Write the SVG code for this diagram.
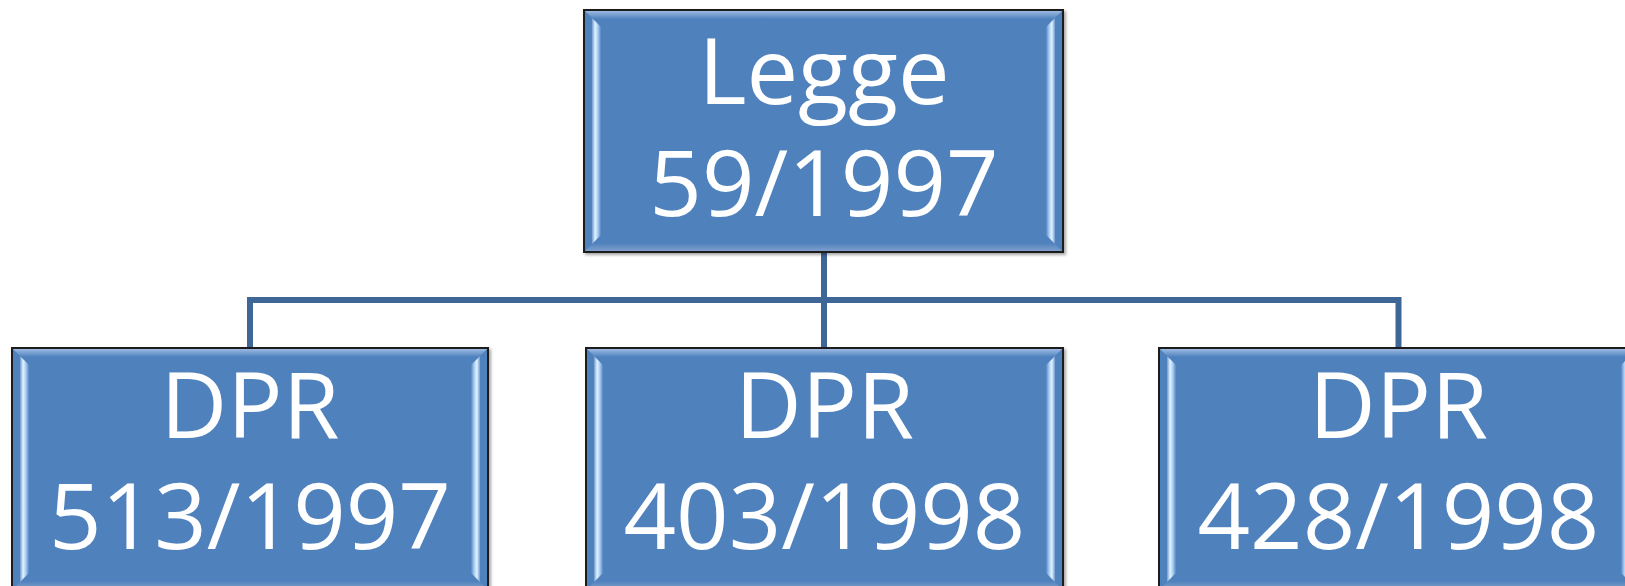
<svg xmlns="http://www.w3.org/2000/svg" width="1625" height="586" viewBox="0 0 1625 586">
<style>
.frame{fill:#4f81bd;stroke:#1c1c1c;stroke-width:2}
.lbl{font-family:"Open Sans","Noto Sans",sans-serif;font-size:92px;fill:#ffffff;text-anchor:middle}
.conn{fill:none;stroke:#3e6797;stroke-width:6}
.strip{fill:url(#gStrip)}
.stripR{fill:url(#gStripR)}
.topband{fill:url(#gTop)}
.botband{fill:url(#gBot)}
</style>
<defs>
<filter id="sh" x="-5%" y="-5%" width="110%" height="110%">
<feDropShadow dx="2" dy="2" stdDeviation="1.5" flood-color="#000" flood-opacity="0.35"/>
</filter>
<linearGradient id="gStrip" x1="0" y1="0" x2="1" y2="0">
<stop offset="0" stop-color="#6f9ad0"/>
<stop offset="0.35" stop-color="#e2f3ff"/>
<stop offset="0.65" stop-color="#a9cdf3"/>
<stop offset="1" stop-color="#5586c2"/>
</linearGradient>
<linearGradient id="gStripR" x1="1" y1="0" x2="0" y2="0">
<stop offset="0" stop-color="#6f9ad0"/>
<stop offset="0.35" stop-color="#e2f3ff"/>
<stop offset="0.65" stop-color="#a9cdf3"/>
<stop offset="1" stop-color="#5586c2"/>
</linearGradient>
<linearGradient id="gTop" x1="0" y1="0" x2="0" y2="1">
<stop offset="0" stop-color="#9dbae2"/>
<stop offset="1" stop-color="#4f81bd"/>
</linearGradient>
<linearGradient id="gBot" x1="0" y1="0" x2="0" y2="1">
<stop offset="0" stop-color="#4f81bd"/>
<stop offset="1" stop-color="#7d9fcb"/>
</linearGradient>
</defs>
<rect width="1625" height="586" fill="#ffffff"/>

<g id="connectors">
<path class="conn" d="M824 252 V348"/>
<path class="conn" d="M250 348 V300 H1398.5 V348"/>
</g>

<g id="node-legge">
<rect class="frame" x="584" y="10" width="479" height="242" filter="url(#sh)"/>
<polygon class="topband" points="585,11 1062,11 1054,19 593,19"/>
<polygon class="botband" points="593,243 1054,243 1062,251 585,251"/>
<polygon class="strip" points="592,18 601,27 601,235 592,244"/>
<polygon class="stripR" points="1055,18 1046,27 1046,235 1055,244"/>
<text class="lbl" x="824" y="104">Legge</text>
<text class="lbl" x="824" y="216">59/1997</text>
</g>

<g id="node-dpr513">
<rect class="frame" x="12" y="348" width="476" height="242" filter="url(#sh)"/>
<polygon class="topband" points="13,349 487,349 479,357 21,357"/>
<polygon class="botband" points="21,581 479,581 487,589 13,589"/>
<polygon class="strip" points="20,356 29,365 29,573 20,582"/>
<polygon class="stripR" points="480,356 471,365 471,573 480,582"/>
<text class="lbl" x="250" y="438">DPR</text>
<text class="lbl" x="250" y="549">513/1997</text>
</g>

<g id="node-dpr403">
<rect class="frame" x="586" y="348" width="477" height="242" filter="url(#sh)"/>
<polygon class="topband" points="587,349 1062,349 1054,357 595,357"/>
<polygon class="botband" points="595,581 1054,581 1062,589 587,589"/>
<polygon class="strip" points="594,356 603,365 603,573 594,582"/>
<polygon class="stripR" points="1055,356 1046,365 1046,573 1055,582"/>
<text class="lbl" x="824.5" y="438">DPR</text>
<text class="lbl" x="824.5" y="549">403/1998</text>
</g>

<g id="node-dpr428">
<rect class="frame" x="1159" y="348" width="479" height="242" filter="url(#sh)"/>
<polygon class="topband" points="1160,349 1637,349 1629,357 1168,357"/>
<polygon class="botband" points="1168,581 1629,581 1637,589 1160,589"/>
<polygon class="strip" points="1167,356 1176,365 1176,573 1167,582"/>
<polygon class="stripR" points="1630,356 1621,365 1621,573 1630,582"/>
<text class="lbl" x="1398.5" y="438">DPR</text>
<text class="lbl" x="1398.5" y="549">428/1998</text>
</g>
</svg>
